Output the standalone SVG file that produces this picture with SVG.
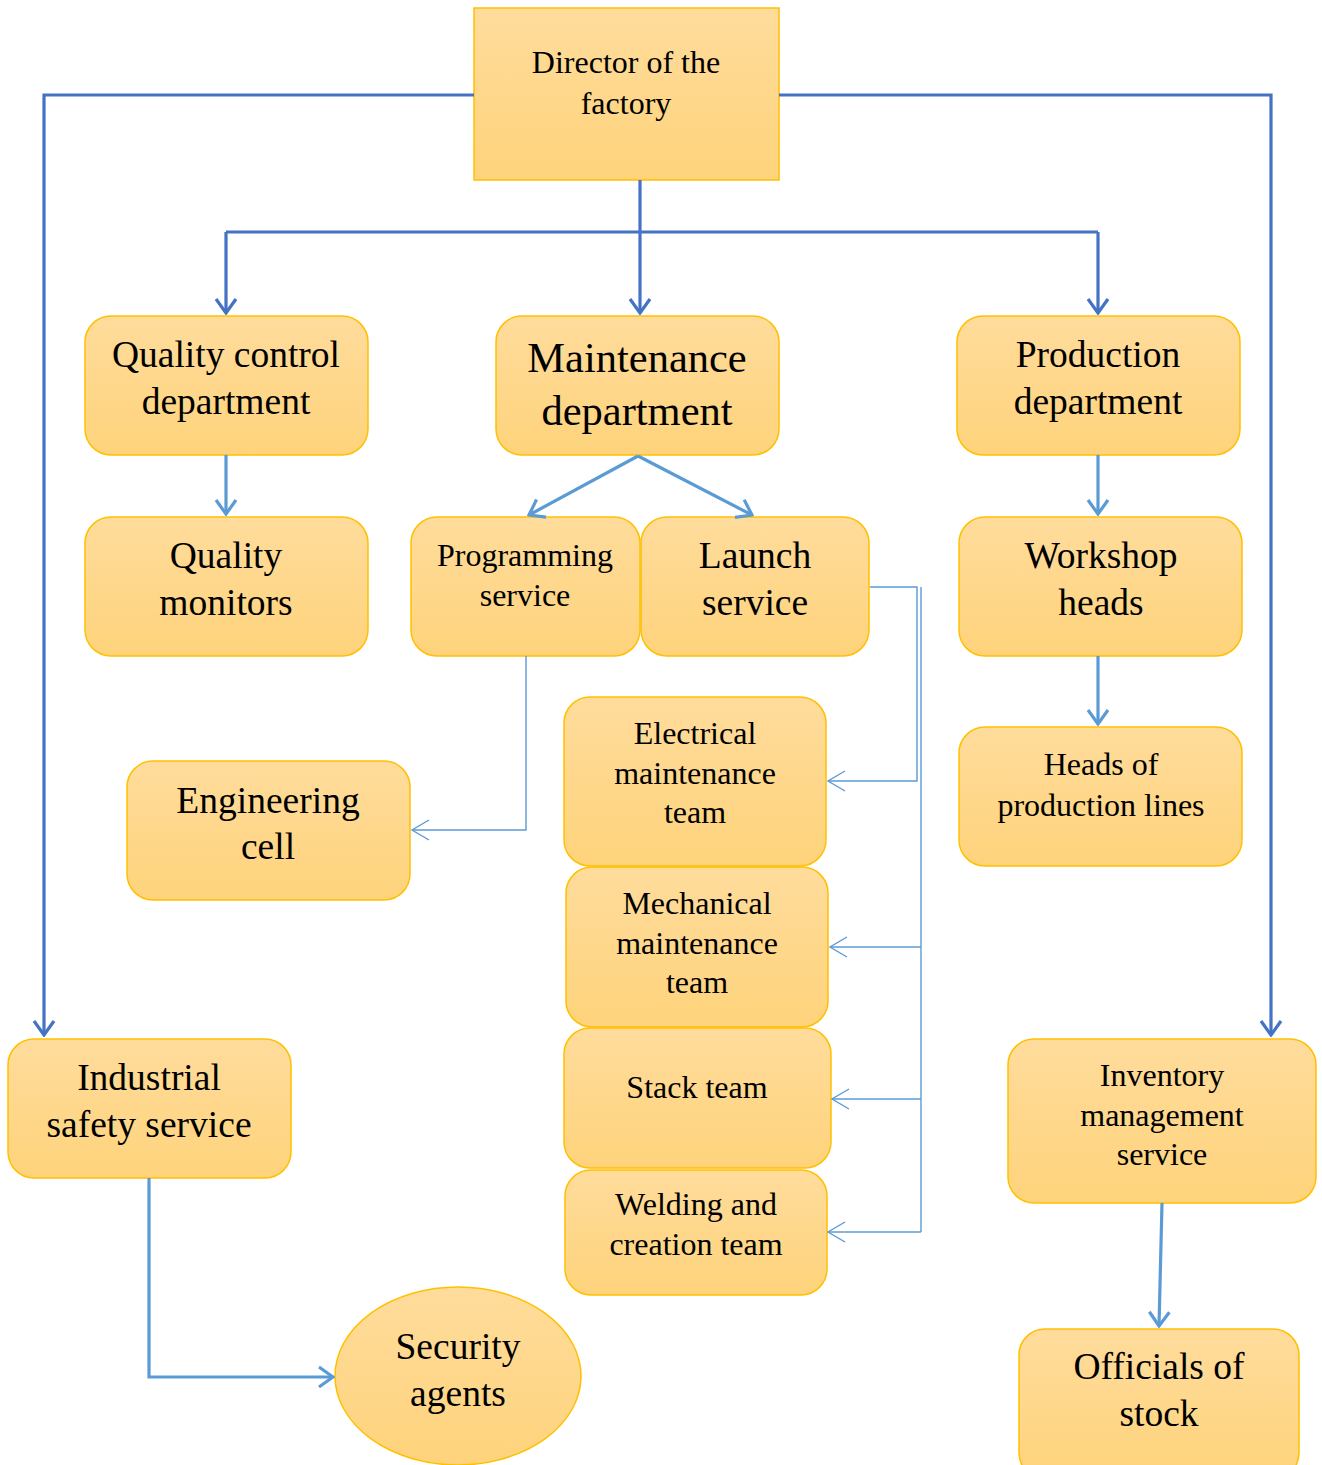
<svg xmlns="http://www.w3.org/2000/svg" width="1322" height="1465" viewBox="0 0 1322 1465">
  <style>
    .box { fill: url(#boxFill); stroke: #FFC000; stroke-width: 1.5; }
    .t { font-family: "Liberation Serif", "Times New Roman", serif; fill: #000; text-anchor: middle; }
    .s28 { font-size: 32px; }
    .s34 { font-size: 37.5px; }
    .s40 { font-size: 42.5px; }
    .main { fill: none; stroke: #4472C4; stroke-width: 3.2; }
    .sub { fill: none; stroke: #5B9BD5; stroke-width: 3.2; }
    .thin { fill: none; stroke: #5B9BD5; stroke-width: 1.4; }
  </style>
  <defs>
    <linearGradient id="boxFill" x1="0" y1="0" x2="0" y2="1">
      <stop offset="0" stop-color="#FFDC9C"/>
      <stop offset="1" stop-color="#FED37B"/>
    </linearGradient>
    <marker id="arrMain" viewBox="-16 -12 18 24" markerWidth="18" markerHeight="24" refX="0" refY="0" orient="auto" markerUnits="userSpaceOnUse">
      <path d="M-14,-10 L0,0 L-14,10" fill="none" stroke="#4472C4" stroke-width="3.2" stroke-linejoin="miter"/>
    </marker>
    <marker id="arrSub" viewBox="-16 -12 18 24" markerWidth="18" markerHeight="24" refX="0" refY="0" orient="auto" markerUnits="userSpaceOnUse">
      <path d="M-14,-10 L0,0 L-14,10" fill="none" stroke="#5B9BD5" stroke-width="3.2"/>
    </marker>
    <marker id="arrThin" viewBox="-19 -12 21 24" markerWidth="21" markerHeight="24" refX="0" refY="0" orient="auto" markerUnits="userSpaceOnUse">
      <path d="M-17,-10 L0,0 L-17,10" fill="none" stroke="#5B9BD5" stroke-width="1.4"/>
    </marker>
  </defs>

  <rect width="1322" height="1465" fill="#FFFFFF"/>

  <!-- nodes -->
  <g id="director">
    <rect class="box" x="474" y="8" width="305" height="172"/>
    <text class="t s28" x="626" y="73">Director of the</text>
    <text class="t s28" x="626" y="114">factory</text>
  </g>
  <g id="quality-control">
    <rect class="box" x="85" y="316" width="283" height="139" rx="26"/>
    <text class="t s34" x="226" y="367">Quality control</text>
    <text class="t s34" x="226" y="414">department</text>
  </g>
  <g id="maintenance">
    <rect class="box" x="496" y="316" width="283" height="139" rx="26"/>
    <text class="t s40" x="637" y="372">Maintenance</text>
    <text class="t s40" x="637" y="425">department</text>
  </g>
  <g id="production">
    <rect class="box" x="957" y="316" width="283" height="139" rx="26"/>
    <text class="t s34" x="1098" y="367">Production</text>
    <text class="t s34" x="1098" y="414">department</text>
  </g>
  <g id="quality-monitors">
    <rect class="box" x="85" y="517" width="283" height="139" rx="26"/>
    <text class="t s34" x="226" y="568">Quality</text>
    <text class="t s34" x="226" y="615">monitors</text>
  </g>
  <g id="programming">
    <rect class="box" x="411" y="517" width="229" height="139" rx="26"/>
    <text class="t s28" x="525" y="566">Programming</text>
    <text class="t s28" x="525" y="606">service</text>
  </g>
  <g id="launch">
    <rect class="box" x="641" y="517" width="228" height="139" rx="26"/>
    <text class="t s34" x="755" y="568">Launch</text>
    <text class="t s34" x="755" y="615">service</text>
  </g>
  <g id="workshop-heads">
    <rect class="box" x="959" y="517" width="283" height="139" rx="26"/>
    <text class="t s34" x="1101" y="568">Workshop</text>
    <text class="t s34" x="1101" y="615">heads</text>
  </g>
  <g id="line-heads">
    <rect class="box" x="959" y="727" width="283" height="139" rx="26"/>
    <text class="t s28" x="1101" y="775">Heads of</text>
    <text class="t s28" x="1101" y="816">production lines</text>
  </g>
  <g id="electrical">
    <rect class="box" x="564" y="697" width="262" height="169" rx="26"/>
    <text class="t s28" x="695" y="744">Electrical</text>
    <text class="t s28" x="695" y="784">maintenance</text>
    <text class="t s28" x="695" y="823">team</text>
  </g>
  <g id="engineering">
    <rect class="box" x="127" y="761" width="283" height="139" rx="26"/>
    <text class="t s34" x="268" y="813">Engineering</text>
    <text class="t s34" x="268" y="859">cell</text>
  </g>
  <g id="mechanical">
    <rect class="box" x="566" y="867" width="262" height="160" rx="26"/>
    <text class="t s28" x="697" y="914">Mechanical</text>
    <text class="t s28" x="697" y="954">maintenance</text>
    <text class="t s28" x="697" y="993">team</text>
  </g>
  <g id="stack">
    <rect class="box" x="564" y="1028" width="267" height="140" rx="26"/>
    <text class="t s28" x="697" y="1098">Stack team</text>
  </g>
  <g id="welding">
    <rect class="box" x="565" y="1170" width="262" height="125" rx="26"/>
    <text class="t s28" x="696" y="1215">Welding and</text>
    <text class="t s28" x="696" y="1255">creation team</text>
  </g>
  <g id="industrial-safety">
    <rect class="box" x="8" y="1039" width="283" height="139" rx="26"/>
    <text class="t s34" x="149" y="1090">Industrial</text>
    <text class="t s34" x="149" y="1137">safety service</text>
  </g>
  <g id="inventory">
    <rect class="box" x="1008" y="1039" width="308" height="164" rx="26"/>
    <text class="t s28" x="1162" y="1086">Inventory</text>
    <text class="t s28" x="1162" y="1126">management</text>
    <text class="t s28" x="1162" y="1165">service</text>
  </g>
  <g id="security">
    <ellipse class="box" cx="458" cy="1376" rx="123" ry="89"/>
    <text class="t s34" x="458" y="1359">Security</text>
    <text class="t s34" x="458" y="1406">agents</text>
  </g>
  <g id="stock-officials">
    <rect class="box" x="1019" y="1329" width="280" height="150" rx="26"/>
    <text class="t s34" x="1159" y="1379">Officials of</text>
    <text class="t s34" x="1159" y="1426">stock</text>
  </g>

  <!-- connectors -->
  <g id="connectors">
    <path class="main" d="M474,95 H44 V1035" marker-end="url(#arrMain)"/>
    <path class="main" d="M779,95 H1271 V1035" marker-end="url(#arrMain)"/>
    <path class="main" d="M640,180 V313" marker-end="url(#arrMain)"/>
    <path class="main" d="M226,232 H1098"/>
    <path class="main" d="M226,232 V313" marker-end="url(#arrMain)"/>
    <path class="main" d="M1098,232 V313" marker-end="url(#arrMain)"/>

    <path class="sub" d="M226,455 V514" marker-end="url(#arrSub)"/>
    <path class="sub" d="M1098,455 V514" marker-end="url(#arrSub)"/>
    <path class="sub" d="M1098,656 V724" marker-end="url(#arrSub)"/>
    <path class="sub" d="M638,456 L529,515" marker-end="url(#arrSub)"/>
    <path class="sub" d="M638,456 L752,515" marker-end="url(#arrSub)"/>
    <path class="sub" d="M1162,1203 L1159,1326" marker-end="url(#arrSub)"/>
    <path class="sub" d="M149,1178 V1377 H333" marker-end="url(#arrSub)"/>

    <path class="thin" d="M526,656 V830 H412" marker-end="url(#arrThin)"/>
    <path class="thin" d="M870,587 H917 V781 H828" marker-end="url(#arrThin)"/>
    <path class="thin" d="M921,587 V1232"/>
    <path class="thin" d="M921,947 H830" marker-end="url(#arrThin)"/>
    <path class="thin" d="M921,1099 H832" marker-end="url(#arrThin)"/>
    <path class="thin" d="M921,1232 H828" marker-end="url(#arrThin)"/>
  </g>
</svg>
